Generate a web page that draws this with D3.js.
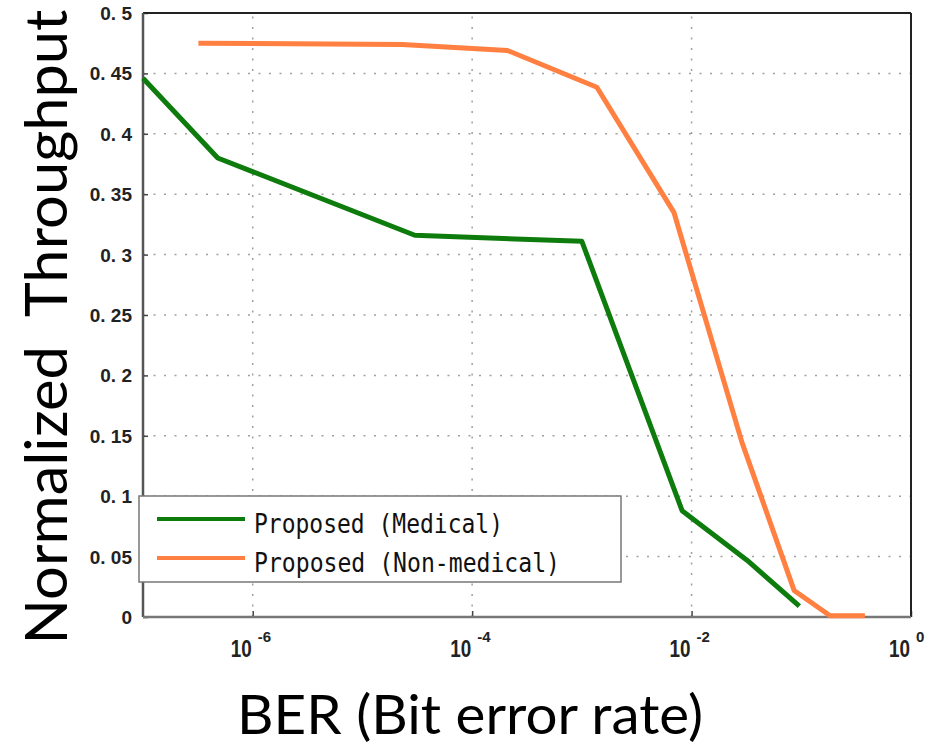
<!DOCTYPE html>
<html>
<head>
<meta charset="utf-8">
<script src="https://cdn.jsdelivr.net/npm/d3@7/dist/d3.min.js"></script>
<style>
  html, body { margin: 0; padding: 0; background: #fff; }
  svg { display: block; }
</style>
</head>
<body>
<svg id="chart" width="937" height="748"></svg>
<script>
// ---- data ----
const berMedical = [1e-7, 4.8e-7, 3.0e-5, 1.0e-3, 8.2e-3, 3.2e-2, 9.6e-2];
const thrMedical = [0.446, 0.380, 0.316, 0.311, 0.088, 0.047, 0.009];

const berNonMedical = [3.2e-7, 2.3e-5, 2.1e-4, 1.37e-3, 6.9e-3, 2.87e-2, 8.6e-2, 1.83e-1, 3.8e-1];
const thrNonMedical = [0.475, 0.474, 0.469, 0.4385, 0.335, 0.145, 0.022, 0.001, 0.001];

const seriesNames = ["Proposed (Medical)", "Proposed (Non-medical)"];
const yTickValues = [0, 0.05, 0.1, 0.15, 0.2, 0.25, 0.3, 0.35, 0.4, 0.45, 0.5];
const yTickLabels = ["0", "0. 05", "0. 1", "0. 15", "0. 2", "0. 25", "0. 3", "0. 35", "0. 4", "0. 45", "0. 5"];
const xTickValues = [1e-6, 1e-4, 1e-2, 1e0];
const xTickExponents = ["-6", "-4", "-2", "0"];
const xLabel = "BER (Bit error rate)";
const yLabel = "Normalized\u00A0\u00A0Throughput";

// ---- layout ----
const plotL = 143, plotR = 911, plotT = 13, plotB = 617;
const colors = ["#0d7c0d", "#ff8040"];

const svg = d3.select("#chart");

const x = d3.scaleLog().domain([1e-7, 1]).range([plotL, plotR]);
const y = d3.scaleLinear().domain([0, 0.5]).range([plotB, plotT]);

// gridlines
const grid = svg.append("g");
grid.selectAll("line.hg").data(yTickValues).enter().append("line")
  .attr("x1", plotL).attr("x2", plotR)
  .attr("y1", d => y(d)).attr("y2", d => y(d))
  .attr("stroke", "#a0a0a0").attr("stroke-width", 1.5)
  .attr("stroke-dasharray", "2,8.5");
grid.selectAll("line.vg").data(xTickValues.slice(0, 3)).enter().append("line")
  .attr("x1", d => x(d)).attr("x2", d => x(d))
  .attr("y1", plotB).attr("y2", plotT)
  .attr("stroke", "#a0a0a0").attr("stroke-width", 1.5)
  .attr("stroke-dasharray", "2,8.5");

// axes with inward ticks
const yAxis = d3.axisLeft(y).tickValues(yTickValues).tickSize(-5).tickFormat("");
const gy = svg.append("g").attr("transform", `translate(${plotL},0)`).call(yAxis);
gy.select(".domain").remove();
gy.selectAll(".tick line").attr("stroke", "#444").attr("stroke-width", 1.5);

const xAxis = d3.axisBottom(x).tickValues(xTickValues).tickSize(-6).tickFormat("");
const gx = svg.append("g").attr("transform", `translate(0,${plotB})`).call(xAxis);
gx.select(".domain").remove();
gx.selectAll(".tick line").attr("stroke", "#444").attr("stroke-width", 1.5);

// box
svg.append("line").attr("x1", plotL).attr("x2", plotR).attr("y1", plotT).attr("y2", plotT)
  .attr("stroke", "#222").attr("stroke-width", 2);
svg.append("line").attr("x1", plotR).attr("x2", plotR).attr("y1", plotT).attr("y2", plotB)
  .attr("stroke", "#222").attr("stroke-width", 2);
svg.append("line").attr("x1", plotL).attr("x2", plotL).attr("y1", plotT).attr("y2", plotB)
  .attr("stroke", "#555").attr("stroke-width", 2.5);
svg.append("line").attr("x1", plotL).attr("x2", plotR).attr("y1", plotB).attr("y2", plotB)
  .attr("stroke", "#777").attr("stroke-width", 2.5);

// y tick labels
svg.append("g").selectAll("text").data(yTickValues).enter().append("text")
  .attr("x", 132).attr("y", d => y(d) + 7)
  .attr("text-anchor", "end")
  .attr("font-family", "Liberation Sans, Arial, sans-serif")
  .attr("font-weight", "bold").attr("font-size", 19).attr("fill", "#222")
  .text((d, i) => yTickLabels[i]);

// x tick labels: 10 with superscript exponent
const xl = svg.append("g");
xTickValues.forEach((v, i) => {
  xl.append("text")
    .attr("x", x(v) - 22).attr("y", 657)
    .attr("font-family", "Liberation Sans, Arial, sans-serif")
    .attr("font-weight", "bold").attr("font-size", 23).attr("fill", "#222")
    .attr("textLength", 21).attr("lengthAdjust", "spacingAndGlyphs")
    .text("10");
  xl.append("text")
    .attr("x", x(v) + 5).attr("y", 642)
    .attr("font-family", "Liberation Sans, Arial, sans-serif")
    .attr("font-weight", "bold").attr("font-size", 15).attr("fill", "#222")
    .text(xTickExponents[i]);
});

// series lines
const line = d3.line().x(d => x(d[0])).y(d => y(d[1]));
const series = [
  d3.zip(berMedical, thrMedical),
  d3.zip(berNonMedical, thrNonMedical)
];
series.forEach((s, i) => {
  svg.append("path").datum(s)
    .attr("d", line)
    .attr("fill", "none")
    .attr("stroke", colors[i])
    .attr("stroke-width", 5)
    .attr("stroke-linejoin", "round");
});

// legend
const lg = svg.append("g");
lg.append("rect").attr("x", 139).attr("y", 496).attr("width", 482).attr("height", 86)
  .attr("fill", "#fff").attr("stroke", "#777").attr("stroke-width", 1.5);
const legendY = [519, 558];
const legendLen = [249, 306];
seriesNames.forEach((name, i) => {
  lg.append("line").attr("x1", 157).attr("x2", 245)
    .attr("y1", legendY[i]).attr("y2", legendY[i])
    .attr("stroke", colors[i]).attr("stroke-width", 4);
  lg.append("text").attr("x", 254).attr("y", legendY[i] + 14)
    .attr("font-family", "DejaVu Sans Mono, Liberation Mono, monospace")
    .attr("font-size", 26).attr("fill", "#111")
    .attr("textLength", legendLen[i]).attr("lengthAdjust", "spacingAndGlyphs")
    .text(name);
});

// axis titles
svg.append("text")
  .attr("x", 470).attr("y", 734)
  .attr("text-anchor", "middle")
  .attr("font-family", "Lato, Open Sans, sans-serif")
  .attr("font-size", 54).attr("fill", "#000")
  .attr("textLength", 466).attr("lengthAdjust", "spacingAndGlyphs")
  .text(xLabel);

svg.append("text")
  .attr("transform", "translate(67,327) rotate(-90)")
  .attr("text-anchor", "middle")
  .attr("font-family", "Lato, Open Sans, sans-serif")
  .attr("font-size", 58).attr("fill", "#000")
  .attr("textLength", 635).attr("lengthAdjust", "spacingAndGlyphs")
  .text(yLabel);
</script>
</body>
</html>
